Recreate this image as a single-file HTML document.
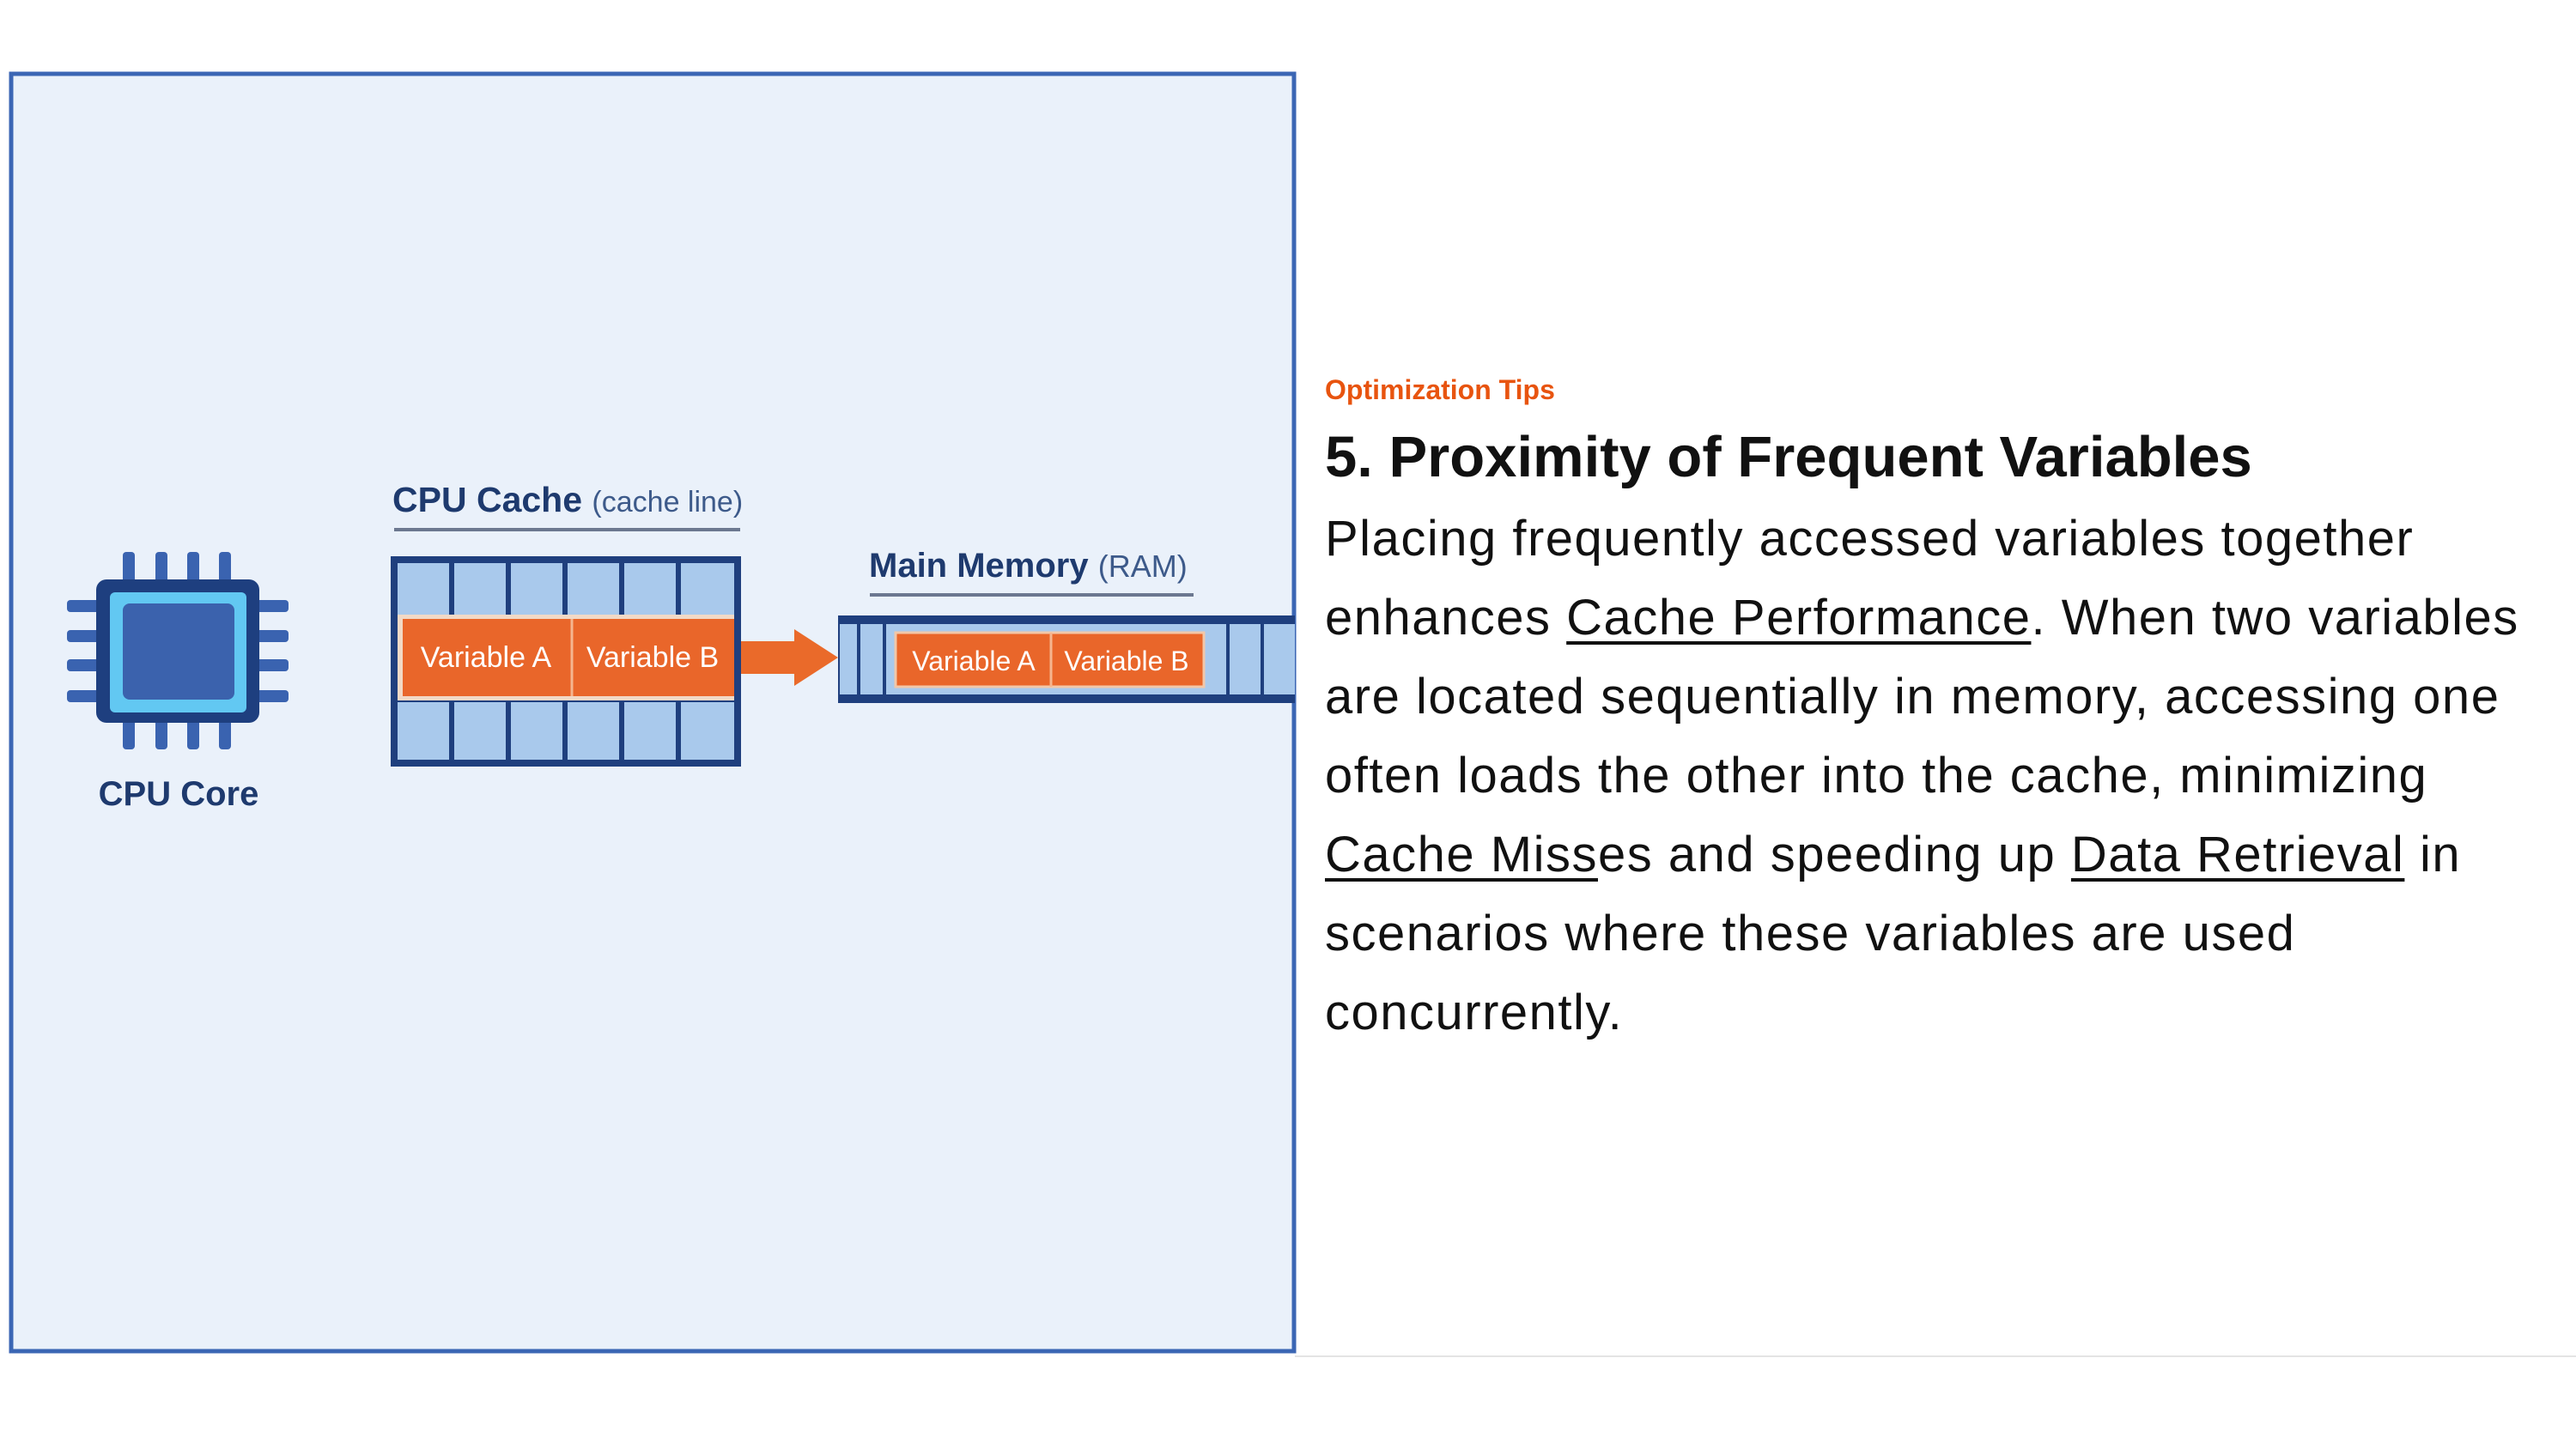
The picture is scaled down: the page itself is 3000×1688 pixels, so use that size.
<!DOCTYPE html>
<html><head><meta charset="utf-8"><style>
html,body{margin:0;padding:0;width:3000px;height:1688px;background:#fff;overflow:hidden}
.t{position:absolute;left:1543px;font-family:"Liberation Sans",sans-serif;white-space:nowrap;color:#111}
u{text-decoration-thickness:4px;text-underline-offset:8px}
</style></head><body>
<svg width="3000" height="1688" style="position:absolute;left:0;top:0" font-family="Liberation Sans, sans-serif">
<rect x="13" y="86" width="1494" height="1488" fill="#eaf1fa" stroke="#3b66b4" stroke-width="5"/>
<line x1="1508" y1="1580" x2="3000" y2="1580" stroke="#e4e4e4" stroke-width="2"/>
<g fill="#3a63b0">
<rect x="143" y="643" width="14" height="40" rx="4"/><rect x="181" y="643" width="14" height="40" rx="4"/><rect x="218" y="643" width="14" height="40" rx="4"/><rect x="255" y="643" width="14" height="40" rx="4"/>
<rect x="143" y="835" width="14" height="38" rx="4"/><rect x="181" y="835" width="14" height="38" rx="4"/><rect x="218" y="835" width="14" height="38" rx="4"/><rect x="255" y="835" width="14" height="38" rx="4"/>
<rect x="78" y="699" width="40" height="14" rx="4"/><rect x="78" y="734" width="40" height="14" rx="4"/><rect x="78" y="768" width="40" height="14" rx="4"/><rect x="78" y="804" width="40" height="14" rx="4"/>
<rect x="296" y="699" width="40" height="14" rx="4"/><rect x="296" y="734" width="40" height="14" rx="4"/><rect x="296" y="768" width="40" height="14" rx="4"/><rect x="296" y="804" width="40" height="14" rx="4"/>
</g>
<rect x="112" y="675" width="190" height="167" rx="12" fill="#1e3f7f"/>
<rect x="128" y="690" width="159" height="140" rx="6" fill="#62c8f2"/>
<rect x="143" y="703" width="130" height="112" rx="8" fill="#3b62ad"/>
<text x="208" y="938" text-anchor="middle" font-size="40" font-weight="bold" fill="#1e3a6e">CPU Core</text>
<text x="457" y="596" font-size="41" font-weight="bold" fill="#1e3a6e">CPU Cache <tspan font-weight="normal" font-size="34" fill="#3d5a8a">(cache line)</tspan></text>
<line x1="459" y1="617" x2="862" y2="617" stroke="#6c7890" stroke-width="4"/>
<rect x="455" y="648" width="408" height="245" fill="#1f3f7e"/>
<g fill="#a9c9ec">
<rect x="463" y="656" width="60" height="60"/><rect x="529" y="656" width="60" height="60"/><rect x="595" y="656" width="60" height="60"/><rect x="661" y="656" width="60" height="60"/><rect x="727" y="656" width="60" height="60"/><rect x="793" y="656" width="62" height="60"/>
<rect x="463" y="818" width="60" height="67"/><rect x="529" y="818" width="60" height="67"/><rect x="595" y="818" width="60" height="67"/><rect x="661" y="818" width="60" height="67"/><rect x="727" y="818" width="60" height="67"/><rect x="793" y="818" width="62" height="67"/>
</g>
<rect x="463" y="716" width="392" height="100" fill="#f2d9c6"/>
<rect x="469" y="721" width="386" height="90" fill="#e9662a"/>
<line x1="666" y1="721" x2="666" y2="811" stroke="#f5b58f" stroke-width="3"/>
<text x="566" y="777" text-anchor="middle" font-size="34" fill="#fff">Variable A</text>
<text x="760" y="777" text-anchor="middle" font-size="34" fill="#fff">Variable B</text>
<polygon points="863,747 925,747 925,733 976,766 925,799 925,785 863,785" fill="#ea6a2a"/>
<text x="1012" y="672" font-size="40" font-weight="bold" fill="#1e3a6e">Main Memory <tspan font-weight="normal" font-size="36" fill="#3d5a8a">(RAM)</tspan></text>
<line x1="1013" y1="693" x2="1390" y2="693" stroke="#6c7890" stroke-width="4"/>
<rect x="976" y="717" width="532" height="102" fill="#1f3f7e"/>
<rect x="978" y="727" width="530" height="82" fill="#a9c9ec"/>
<g stroke="#1f3f7e" stroke-width="4"><line x1="1000" y1="727" x2="1000" y2="809"/><line x1="1030" y1="727" x2="1030" y2="809"/><line x1="1430" y1="727" x2="1430" y2="809"/><line x1="1470" y1="727" x2="1470" y2="809"/></g>
<rect x="1043" y="737" width="359" height="63" fill="#e9662a" stroke="#f2c7a8" stroke-width="3"/>
<line x1="1224" y1="737" x2="1224" y2="800" stroke="#f5b58f" stroke-width="3"/>
<text x="1134" y="781" text-anchor="middle" font-size="32" fill="#fff">Variable A</text>
<text x="1312" y="781" text-anchor="middle" font-size="32" fill="#fff">Variable B</text>
</svg>
<div class="t" style="top:436px;font-size:32px;font-weight:bold;color:#e8540f">Optimization Tips</div>
<div class="t" style="top:494px;font-size:67px;font-weight:bold">5. Proximity of Frequent Variables</div>
<div class="t" style="top:582px;font-size:58px;line-height:92px;letter-spacing:1.5px">Placing frequently accessed variables together<br>enhances <u>Cache Performance</u>. When two variables<br>are located sequentially in memory, accessing one<br>often loads the other into the cache, minimizing<br><u>Cache Miss</u>es and speeding up <u>Data Retrieval</u> in<br>scenarios where these variables are used<br>concurrently.</div>
</body></html>
